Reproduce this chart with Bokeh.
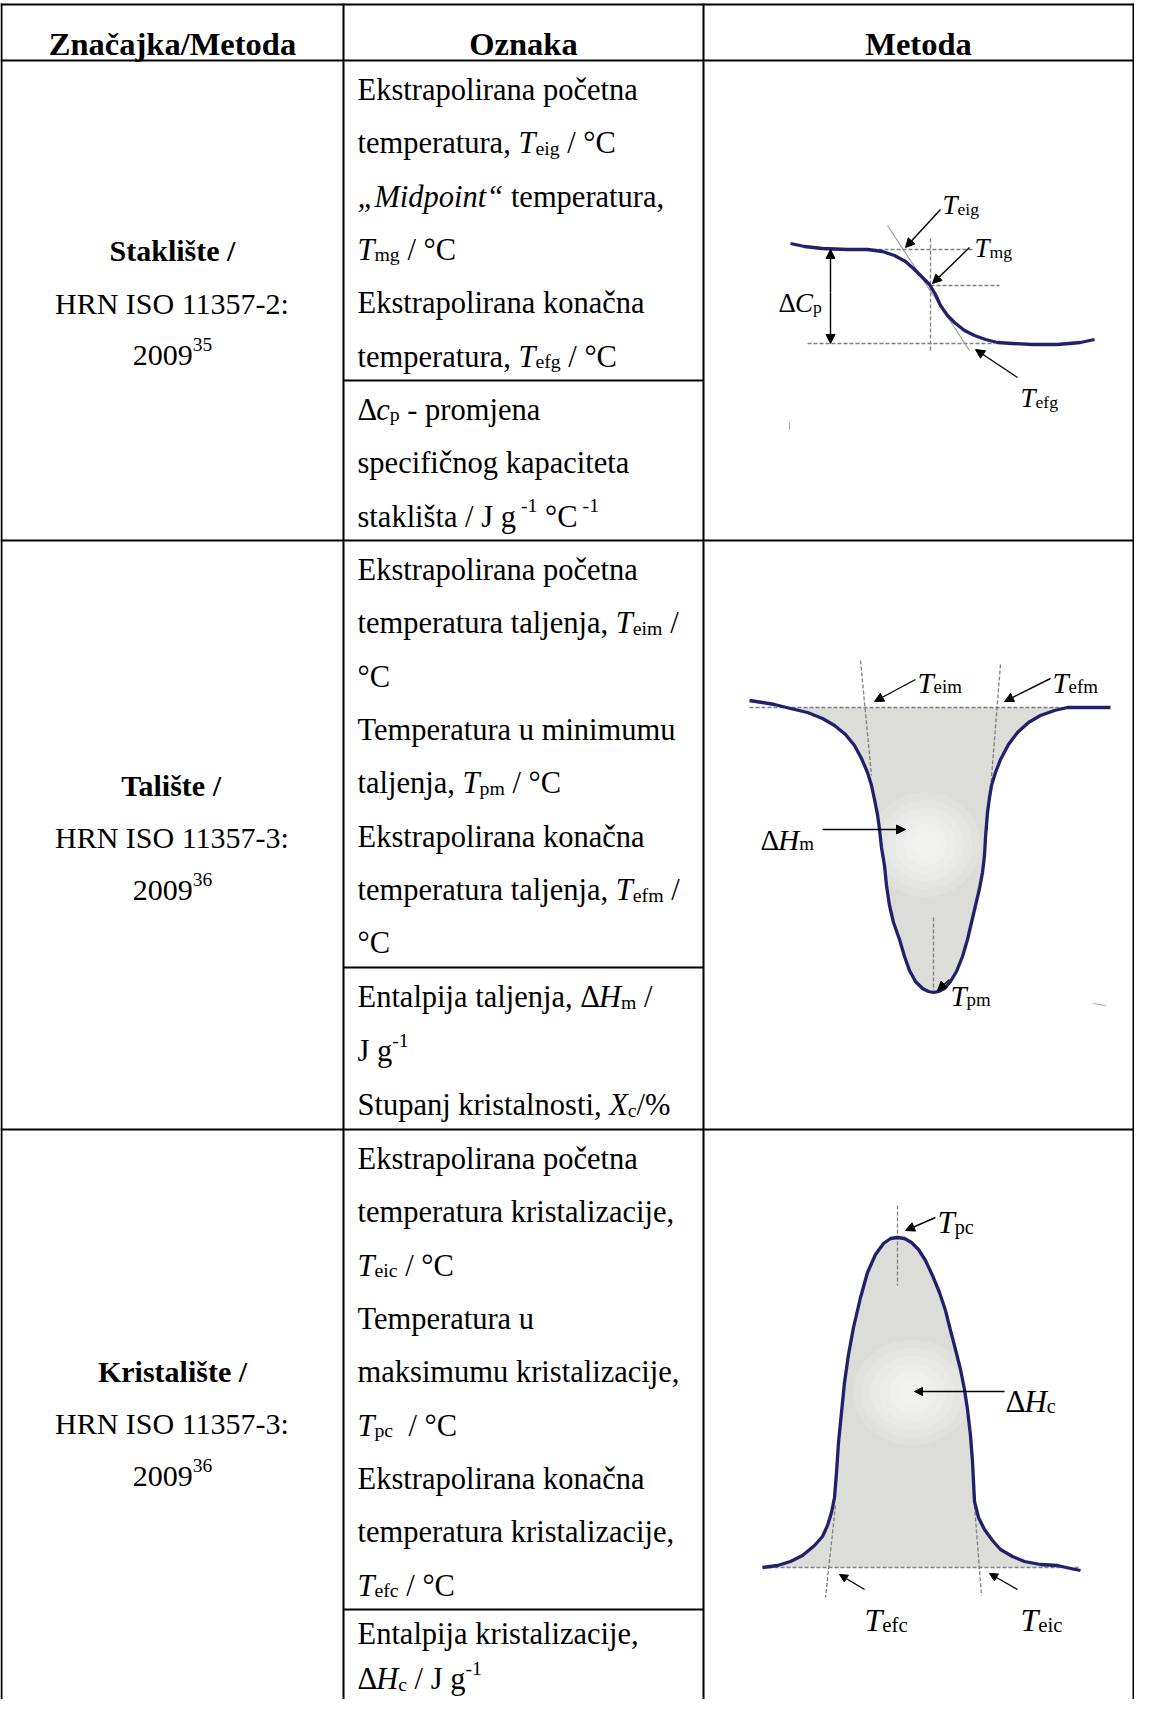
from bokeh.plotting import figure
from bokeh.models import Range1d, Arrow, NormalHead
from bokeh.core.properties import value
from bokeh.embed import file_html
from bokeh.resources import INLINE

FONT = "Liberation Serif"

# ------------------------------------------------------------------ data
headers = ["Značajka/Metoda", "Oznaka", "Metoda"]
feature_names = ["Staklište /", "Talište /", "Kristalište /"]
standards = ["HRN ISO 11357-2:", "HRN ISO 11357-3:", "HRN ISO 11357-3:"]
std_years = ["2009", "2009", "2009"]
std_refs = ["35", "36", "36"]

# "Oznaka" column: rich text lines, (text, style) with r/b/i/sub/sup
glass_marks = [
    [("Ekstrapolirana početna", "r")],
    [("temperatura, ", "r"), ("T", "i"), ("eig", "sub"), (" /  °C", "r")],
    [("„", "i"), ("Midpoint", "i"), ("“", "i"), (" temperatura,", "r")],
    [("T", "i"), ("mg", "sub"), (" / °C", "r")],
    [("Ekstrapolirana konačna", "r")],
    [("temperatura, ", "r"), ("T", "i"), ("efg", "sub"), (" / °C", "r")],
]
glass_marks_2 = [
    [("Δ", "r"), ("c", "i"), ("p", "sub"), (" - promjena", "r")],
    [("specifičnog kapaciteta", "r")],
    [("staklišta / J g", "r"), (" -1", "sup"), (" °C", "r"), (" -1", "sup")],
]
melt_marks = [
    [("Ekstrapolirana početna", "r")],
    [("temperatura taljenja, ", "r"), ("T", "i"), ("eim", "sub"), (" /", "r")],
    [("°C", "r")],
    [("Temperatura u minimumu", "r")],
    [("taljenja, ", "r"), ("T", "i"), ("pm", "sub"), (" / °C", "r")],
    [("Ekstrapolirana konačna", "r")],
    [("temperatura taljenja, ", "r"), ("T", "i"), ("efm", "sub"), (" /", "r")],
    [("°C", "r")],
]
melt_marks_2 = [
    [("Entalpija taljenja, Δ", "r"), ("H", "i"), ("m", "sub"), (" /", "r")],
    [("J g", "r"), ("-1", "sup")],
    [("Stupanj kristalnosti, ", "r"), ("X", "i"), ("c", "sub"), ("/%", "r")],
]
cryst_marks = [
    [("Ekstrapolirana početna", "r")],
    [("temperatura kristalizacije,", "r")],
    [("T", "i"), ("eic", "sub"), (" / °C", "r")],
    [("Temperatura u", "r")],
    [("maksimumu kristalizacije,", "r")],
    [("T", "i"), ("pc", "sub"), ("  / °C", "r")],
    [("Ekstrapolirana konačna", "r")],
    [("temperatura kristalizacije,", "r")],
    [("T", "i"), ("efc", "sub"), (" / °C", "r")],
]
cryst_marks_2 = [
    [("Entalpija kristalizacije,", "r")],
    [("Δ", "r"), ("H", "i"), ("c", "sub"), (" / J g", "r"), ("-1", "sup")],
]

# DSC curves (page pixel coordinates)
glass_x = [798, 812, 830, 855, 875, 890, 902, 913, 922, 930, 937, 943, 948, 955, 962, 972,
           982, 993, 1005, 1020, 1040, 1065, 1088, 1102]
glass_y = [251, 254, 256, 257, 257, 259, 263, 269, 277, 285, 292, 302, 313, 323, 330, 338,
           343, 347, 350, 351, 352, 352, 350, 347]

melt_x = [757, 770, 782, 798, 815, 830, 842, 853, 862, 869, 875, 879, 882, 885, 887, 889,
          892, 894, 897, 901, 907, 912, 917, 923, 930, 936, 941, 946, 952, 958, 964, 970,
          975, 979, 983, 987, 990, 992, 993, 995, 997, 999, 1003, 1008, 1016, 1025, 1036,
          1048, 1062, 1075, 1090, 1118]
melt_y = [708, 710, 712, 716, 720, 726, 733, 742, 753, 766, 780, 793, 807, 822, 837, 855,
          873, 893, 913, 930, 947, 964, 978, 989, 996, 999, 1000, 999, 996, 989, 979, 964,
          947, 930, 913, 896, 880, 863, 845, 820, 805, 793, 780, 767, 752, 740, 730,
          723, 718, 715, 715, 715]

cryst_x = [770, 785, 798, 810, 822, 830, 835, 839, 842, 844, 846, 849, 852, 856, 861, 868,
           875, 883, 891, 898, 905, 912, 919, 926, 933, 940, 947, 953, 958, 963, 968, 972,
           975, 978, 980, 982, 986, 992, 1000, 1008, 1020, 1032, 1048, 1065, 1078, 1088]
cryst_y = [1575, 1573, 1569, 1563, 1553, 1544, 1533, 1520, 1505, 1480, 1450, 1420, 1390,
           1362, 1335, 1305, 1280, 1262, 1251, 1246, 1245, 1246, 1250, 1257, 1268, 1283,
           1300, 1318, 1338, 1357, 1377, 1397, 1417, 1443, 1469, 1509, 1525, 1537, 1548,
           1557, 1564, 1569, 1572, 1573, 1576, 1578]

# ------------------------------------------------------------------ layout
col_edges = [9, 351, 711, 1141]
row_edges = [12, 68, 548, 1137, 1720]
sub_edges = [388, 975, 1617]
last_cell_bottom = 1707

NAVY = "#22206b"
FILL = "#dcdcd8"
DASH = "#808080"

W, H = 1134, 1699
p = figure(width=W, height=H, x_range=Range1d(8, 8 + W), y_range=Range1d(8 + H, 8),
           output_backend="svg", toolbar_location=None, min_border=0,
           x_axis_location=None, y_axis_location=None)
p.grid.visible = False
p.outline_line_color = None
p.background_fill_color = "white"
p.border_fill_color = "white"

# ---------------------------------------------------------- text metrics
TR = {' ': .25, '!': .333, '%': .833, ',': .25, '-': .333, '.': .25, '/': .278, ':': .278,
      'A': .722, 'B': .667, 'C': .667, 'D': .722, 'E': .611, 'F': .556, 'G': .722, 'H': .722,
      'I': .333, 'J': .389, 'K': .722, 'L': .611, 'M': .889, 'N': .722, 'O': .722, 'P': .556,
      'Q': .722, 'R': .667, 'S': .556, 'T': .611, 'U': .722, 'V': .722, 'W': .944, 'X': .722,
      'Y': .722, 'Z': .611, 'a': .444, 'b': .5, 'c': .444, 'd': .5, 'e': .444, 'f': .333,
      'g': .5, 'h': .5, 'i': .278, 'j': .278, 'k': .5, 'l': .278, 'm': .778, 'n': .5, 'o': .5,
      'p': .5, 'q': .5, 'r': .333, 's': .389, 't': .278, 'u': .5, 'v': .5, 'w': .722, 'x': .5,
      'y': .5, 'z': .444, 'č': .444, 'š': .389, 'ž': .444, 'ć': .444, '°': .4, 'Δ': .612,
      '„': .444, '“': .444}
for d in '0123456789':
    TR[d] = .5
TB = dict(TR)
TB.update({'a': .5, 'b': .556, 'd': .556, 'h': .556, 'j': .333, 'k': .556, 'm': .833,
           'n': .556, 'p': .556, 'q': .556, 'r': .444, 't': .333, 'u': .556, ':': .333,
           'T': .667, 'K': .778, 'I': .389, 'R': .722, 'H': .778, 'O': .778, 'Z': .667,
           'M': .944, 'E': .667, 'C': .722})
TI = dict(TR)
TI.update({'T': .556, 'M': .833, 'H': .722, 'X': .611, 'C': .667, '„': .556, '“': .556})

groups = {}


def seg_w(t, style, size):
    tab = TB if style == "bold" else TI if style == "italic" else TR
    return sum(tab.get(c, .5) for c in t) * size


def put(x, y, t, style, size):
    lead = len(t) - len(t.lstrip(' '))
    x += lead * .25 * size
    t = t.strip(' ')
    if not t:
        return
    g = groups.setdefault((style, round(size, 1)), ([], [], []))
    g[0].append(x)
    g[1].append(y)
    g[2].append(t)


def rich(segs, x, y, size, align="left"):
    items, total = [], 0.0
    for t, st in segs:
        if st in ("sub", "sup"):
            s = size * .65
            fs = "normal"
            dy = size * .15 if st == "sub" else -size * .36
        else:
            s = size
            fs = {"r": "normal", "b": "bold", "i": "italic"}[st]
            dy = 0
        items.append((t, s, dy, fs, total))
        total += seg_w(t, fs, s)
    x0 = x - total / 2 if align == "center" else x
    for t, s, dy, fs, off in items:
        put(x0 + off, y + dy, t, fs, s)


# ---------------------------------------------------------- diagrams
def dashed(x0, y0, x1, y1):
    p.line([x0, x1], [y0, y1], line_color=DASH, line_width=1.3, line_dash="4 2")


def arrow(x0, y0, x1, y1, both=False, size=9):
    head = NormalHead(size=size, fill_color="black", line_color="black", line_width=1)
    kw = dict(start=NormalHead(size=size, fill_color="black", line_color="black",
                               line_width=1)) if both else dict(start=None)
    p.add_layout(Arrow(end=head, x_start=x0, y_start=y0, x_end=x1, y_end=y1,
                       line_color="black", line_width=1.4, **kw))


def glow(cx, cy, w, h):
    for k in range(6):
        f = 1 - k * .15
        p.ellipse(x=[cx], y=[cy], width=[w * f], height=[h * f], fill_color="white",
                  fill_alpha=.16, line_color=None)


# glass transition
p.line([895, 977], [233, 358], line_color="#9a9a9a", line_width=1.1)
dashed(838, 257, 982, 257)
dashed(938, 293, 1007, 293)
dashed(815, 351, 1002, 351)
dashed(938, 246, 938, 360)
p.line(glass_x, glass_y, line_color=NAVY, line_width=3.3, line_join="round")
arrow(838, 300, 838, 257)
arrow(838, 300, 838, 351)
arrow(948, 217, 913, 255)
arrow(977, 255, 940, 291)
arrow(1025, 385, 983, 357)
p.line([797, 797], [430, 437], line_color="#aaaaaa", line_width=1)
rich([("Δ", "r"), ("C", "i"), ("p", "sub")], 786, 310, 27)
rich([("T", "i"), ("eig", "sub")], 950, 212, 27)
rich([("T", "i"), ("mg", "sub")], 982, 255, 27)
rich([("T", "i"), ("efg", "sub")], 1028, 405, 27)

# melting
base_m = 715
mx = [x for x, y in zip(melt_x, melt_y) if y >= base_m]
my = [y for y in melt_y if y >= base_m]
p.patch([mx[0]] + mx + [mx[-1]], [base_m] + my + [base_m], fill_color=FILL, line_color=None)
glow(933, 852, 110, 105)
dashed(757, base_m, 1070, base_m)
dashed(868, 668, 879, 783)
dashed(1008, 672, 998, 797)
dashed(941, 925, 941, 998)
p.line(melt_x, melt_y, line_color=NAVY, line_width=3.3, line_join="round")
arrow(923, 687, 882, 709)
arrow(1058, 686, 1012, 709)
arrow(830, 837, 913, 837)
arrow(957, 987, 945, 998)
p.line([1100, 1113], [1011, 1013], line_color="#aaaaaa", line_width=1.2)
rich([("T", "i"), ("eim", "sub")], 925, 690, 29)
rich([("T", "i"), ("efm", "sub")], 1060, 690, 29)
rich([("Δ", "r"), ("H", "i"), ("m", "sub")], 768, 847, 29)
rich([("T", "i"), ("pm", "sub")], 958, 1003, 29)

# crystallisation
base_c = 1575
p.patch(cryst_x + [cryst_x[-1], cryst_x[0]], [min(y, base_c) for y in cryst_y] + [base_c, base_c],
        fill_color=FILL, line_color=None)
glow(920, 1400, 120, 105)
dashed(770, base_c, 1088, base_c)
dashed(843, 1513, 833, 1605)
dashed(982, 1513, 989, 1603)
dashed(905, 1213, 905, 1293)
p.line(cryst_x, cryst_y, line_color=NAVY, line_width=3.3, line_join="round")
arrow(943, 1225, 913, 1238)
arrow(1012, 1399, 922, 1399, size=8)
arrow(872, 1597, 847, 1582, size=8)
arrow(1025, 1597, 997, 1581, size=8)
rich([("T", "i"), ("pc", "sub")], 945, 1230, 31)
rich([("Δ", "r"), ("H", "i"), ("c", "sub")], 1013, 1409, 31)
rich([("T", "i"), ("efc", "sub")], 872, 1627, 32)
rich([("T", "i"), ("eic", "sub")], 1028, 1627, 32)

# ---------------------------------------------------------- table grid
LW = 2
for x in col_edges:
    p.line([x, x], [row_edges[0] - 1, 1712], line_color="black", line_width=LW)
for y in row_edges[:-1]:
    p.line([col_edges[0] - 1, col_edges[-1] + 1], [y, y], line_color="black", line_width=LW)
for y in sub_edges:
    p.line([col_edges[1], col_edges[2]], [y, y], line_color="black", line_width=LW)

# header
for i, h in enumerate(headers):
    cx = (col_edges[i] + col_edges[i + 1]) / 2
    rich([(h, "b")], cx, 51, 32.5, align="center")

# first column
cx1 = (col_edges[0] + col_edges[1]) / 2
for r in range(3):
    center = (row_edges[r + 1] + row_edges[r + 2]) / 2
    b0 = center - 50
    rich([(feature_names[r], "b")], cx1, b0, 30, align="center")
    rich([(standards[r], "r")], cx1, b0 + 52.5, 30, align="center")
    rich([(std_years[r], "r"), (std_refs[r], "sup")], cx1, b0 + 105, 30, align="center")

# second column
cells = [(row_edges[1], sub_edges[0], glass_marks), (sub_edges[0], row_edges[2], glass_marks_2),
         (row_edges[2], sub_edges[1], melt_marks), (sub_edges[1], row_edges[3], melt_marks_2),
         (row_edges[3], sub_edges[2], cryst_marks), (sub_edges[2], last_cell_bottom, cryst_marks_2)]
for top, bot, lines in cells:
    pitch = (bot - top) / len(lines)
    for i, segs in enumerate(lines):
        rich(segs, col_edges[1] + 14, top + (i + .55) * pitch, 30.5)

for (style, size), (xs, ys, ts) in groups.items():
    p.text(x=xs, y=ys, text=ts, text_font=value(FONT), text_font_size=f"{size}px",
           text_font_style=style, text_color="black", text_baseline="alphabetic",
           text_align="left")

open("out.html", "w").write(file_html(p, INLINE))
